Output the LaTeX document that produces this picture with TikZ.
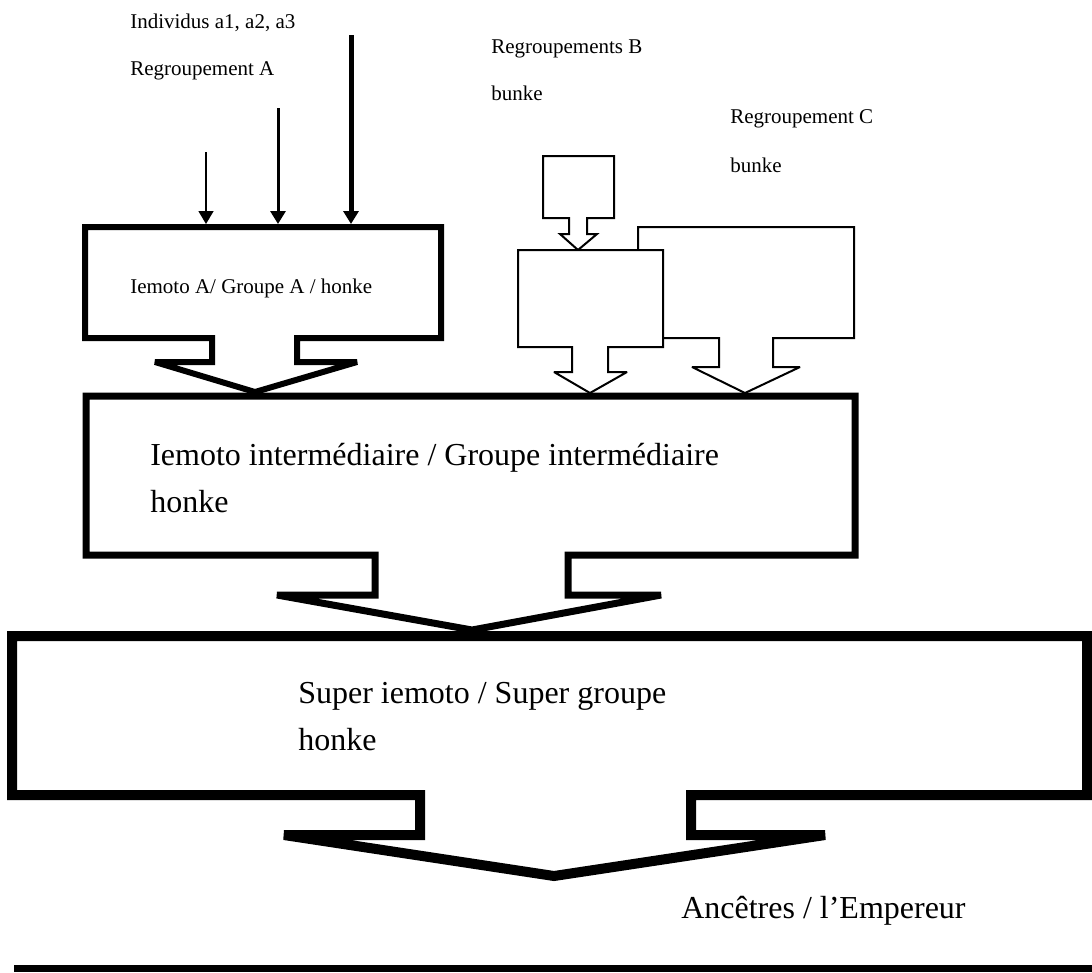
\documentclass[tikz,border=0pt]{standalone}
\usepackage{fontspec}
\setmainfont{Liberation Serif}
\usetikzlibrary{arrows.meta}

\begin{document}
\begin{tikzpicture}[x=0.75pt,y=-0.75pt,
  petit/.style={anchor=base west,inner sep=0pt,font=\fontsize{15.75}{19}\selectfont},
  grand/.style={anchor=base west,inner sep=0pt,font=\fontsize{24}{29}\selectfont},
  bloc/.style={fill=white,line join=miter,miter limit=3},
  fleche/.style={-{Triangle[length=9.75pt,width=11.25pt]}}]
\useasboundingbox (0,0) rectangle (1092,972);

% individus a1, a2, a3 -> iemoto A
\node[petit] (indiv) at (130,28) {Individus a1, a2, a3};
\node[petit] (regA) at (130,75) {Regroupement A};
\coordinate (in1) at (206,152);
\coordinate (in2) at (278,108);
\coordinate (in3) at (351,35);
\coordinate (t1) at (206,224);
\coordinate (t2) at (278,224);
\coordinate (t3) at (351,224);
\draw[fleche,line width=1.1pt] (in1) -- (t1);
\draw[fleche,line width=2.25pt] (in2) -- (t2);
\draw[fleche,line width=3.75pt] (in3) -- (t3);

\draw[bloc,line width=4.5pt] (85,227) -- (441,227) -- (441,338) -- (297,338) -- (297,362)
  -- (357,362) -- (255,392) -- (155,362) -- (212,362) -- (212,338) -- (85,338) -- cycle;
\node[petit] (iemotoA) at (130,293) {Iemoto A/ Groupe A / honke};

% regroupements B et C
\node[petit] (regB) at (491,53) {Regroupements B};
\node[petit] (bunkeB) at (491,100) {bunke};
\node[petit] (regC) at (730,123) {Regroupement C};
\node[petit] (bunkeC) at (730,172) {bunke};

\draw[bloc,line width=1.5pt] (543,156) -- (614,156) -- (614,218) -- (587,218) -- (587,234)
  -- (597,234) -- (578,250) -- (560,234) -- (569,234) -- (569,218) -- (543,218) -- cycle;
\draw[bloc,line width=1.5pt] (638,227) -- (854,227) -- (854,338) -- (773,338) -- (773,367)
  -- (800,367) -- (745,393) -- (692,367) -- (719,367) -- (719,338) -- (638,338) -- cycle;
\draw[bloc,line width=1.5pt] (518,250) -- (663,250) -- (663,347) -- (608,347) -- (608,372)
  -- (627,372) -- (590,393) -- (554,372) -- (572,372) -- (572,347) -- (518,347) -- cycle;

% iemoto intermediaire
\draw[bloc,line width=5.25pt] (86,396) -- (855,396) -- (855,555) -- (568,555) -- (568,595)
  -- (661,595) -- (472,630) -- (277,595) -- (375,595) -- (375,555) -- (86,555) -- cycle;
\node[grand] (inter) at (150,465) {Iemoto intermédiaire / Groupe intermédiaire};
\node[grand] (honkeI) at (150,512) {honke};

% super iemoto
\draw[bloc,line width=7.5pt] (12,636) -- (1087,636) -- (1087,795) -- (691,795) -- (691,835)
  -- (825,835) -- (554,876) -- (284,835) -- (420,835) -- (420,795) -- (12,795) -- cycle;
\node[grand] (super) at (298,703) {Super iemoto / Super groupe};
\node[grand] (honkeS) at (298,750) {honke};

% ancetres
\node[grand] (ancetres) at (681,918) {Ancêtres / l’Empereur};
\fill (14,965) rectangle (1092,972);
\end{tikzpicture}
\end{document}
